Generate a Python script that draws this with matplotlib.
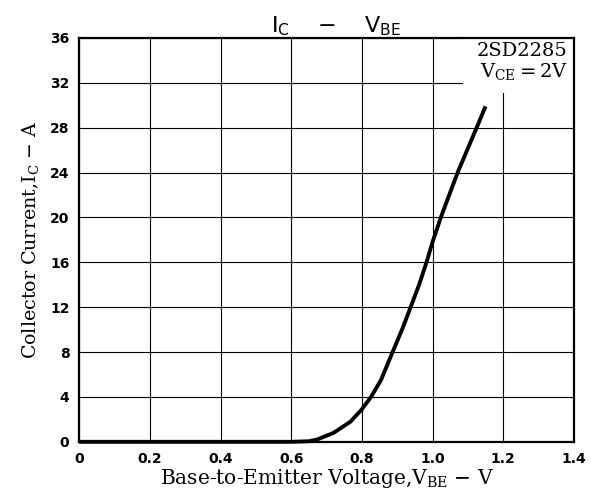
import matplotlib
matplotlib.use('Agg')
import matplotlib.pyplot as plt
from matplotlib.patches import Rectangle

# Ic - Vbe curve
vbe = [0.0, 0.2, 0.4, 0.5, 0.6, 0.65, 0.673, 0.72, 0.768, 0.8, 0.826, 0.854,
       0.887, 0.915, 0.938, 0.962, 0.983, 1.0, 1.0235, 1.071, 1.125, 1.15]
ic = [0.0, 0.0, 0.0, 0.0, 0.0, 0.05, 0.2, 0.8, 1.8, 2.9, 4.0, 5.5,
      8.0, 10.1, 12.0, 14.0, 16.0, 17.8, 20.0, 24.0, 28.0, 29.9]

x_ticks = [0, 0.2, 0.4, 0.6, 0.8, 1.0, 1.2, 1.4]
x_tick_labels = ['0', '0.2', '0.4', '0.6', '0.8', '1.0', '1.2', '1.4']
y_ticks = [0, 4, 8, 12, 16, 20, 24, 28, 32, 36]

fig = plt.figure(figsize=(5.91, 4.92), dpi=100)
ax = fig.add_axes([0.134, 0.102, 0.837, 0.821])

ax.plot(vbe, ic, color='black', lw=2.8, solid_capstyle='butt', clip_on=False, zorder=3)

ax.set_xlim(0, 1.4)
ax.set_ylim(0, 36)
ax.set_xticks(x_ticks)
ax.set_xticklabels(x_tick_labels)
ax.set_yticks(y_ticks)
ax.tick_params(length=0, pad=7, labelsize=10)
for lab in ax.get_xticklabels() + ax.get_yticklabels():
    lab.set_fontweight('bold')
ax.grid(True, color='black', lw=0.8)
for sp in ax.spines.values():
    sp.set_linewidth(1.6)

ax.set_xlabel('Base-to-Emitter Voltage,V$_\\mathregular{BE}$ $-$ V',
              family='DejaVu Serif', fontsize=14.5, labelpad=1)
ax.set_ylabel('Collector Current,I$_\\mathregular{C}$ $-$ A',
              family='DejaVu Serif', fontsize=13.7, labelpad=6)
ax.set_title('I$_\\mathregular{C}$    $-$    V$_\\mathregular{BE}$', fontsize=16, pad=4, x=0.52)

# white patch behind the part label, grid stops there
ax.add_patch(Rectangle((0.776, 0.864), 0.224, 0.136, transform=ax.transAxes,
                       facecolor='white', edgecolor='none', zorder=2))
ax.text(0.988, 0.99, '2SD2285\nV$_\\mathregular{CE}$$=$2V', transform=ax.transAxes,
        ha='right', va='top', family='DejaVu Serif', fontsize=14, linespacing=1.1,
        zorder=4)

fig.savefig('out.png', dpi=100)
